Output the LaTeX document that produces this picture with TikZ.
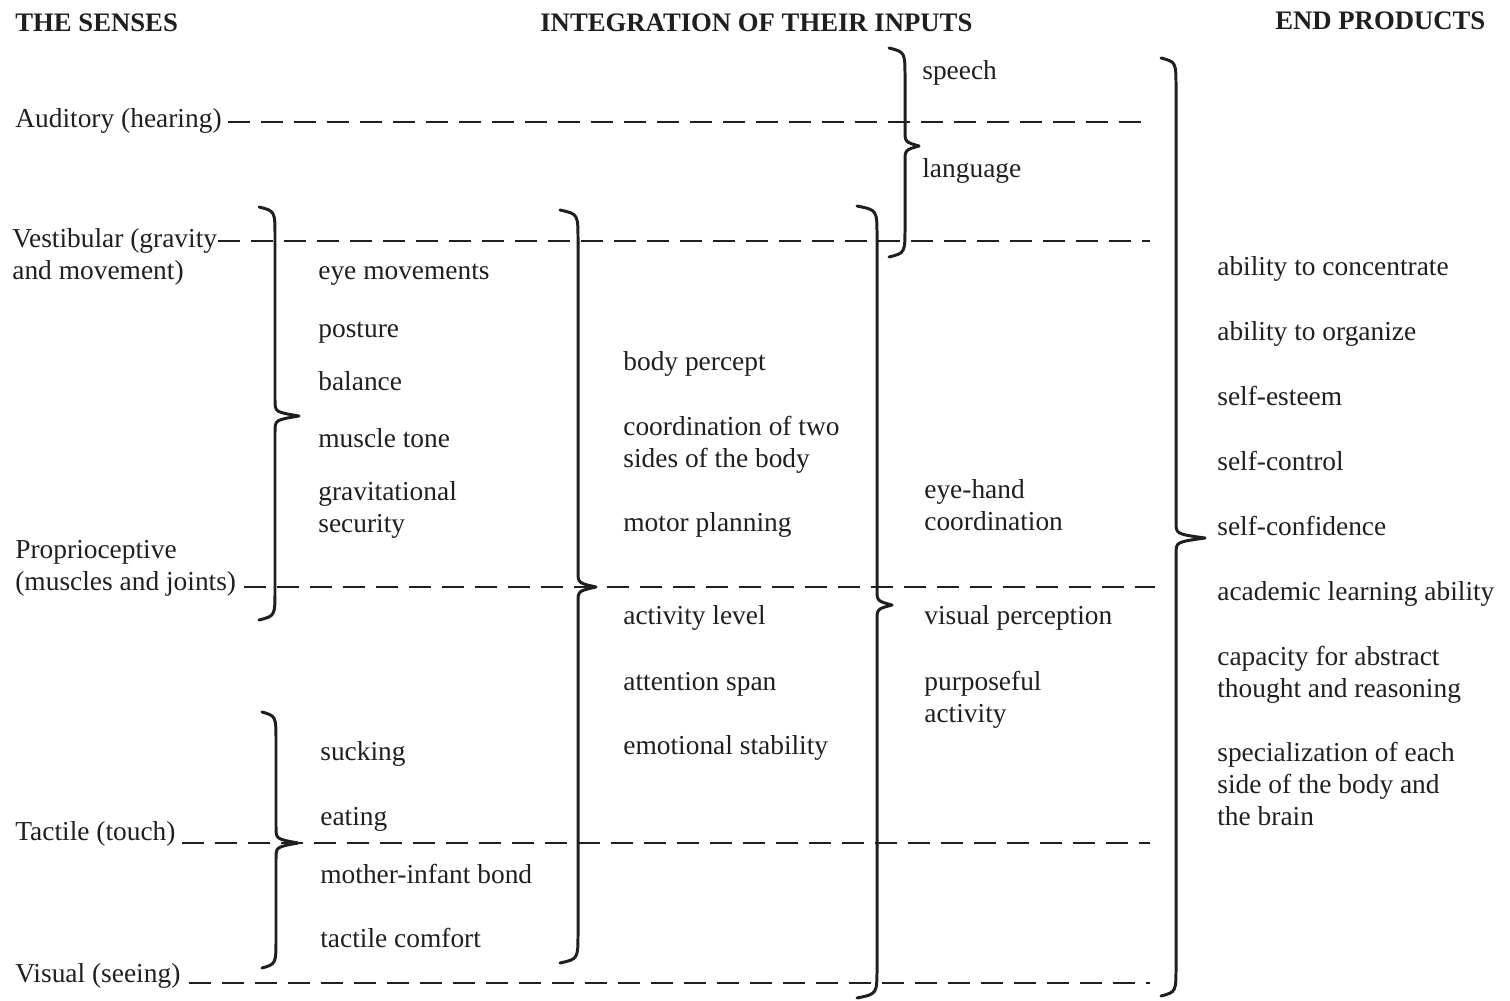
\documentclass[tikz,border=0pt]{standalone}
\usepackage{fontspec}
\setmainfont{Liberation Serif}
\newcommand\sbrace[6]{%
  \draw[bracestyle] (#1,#4) .. controls (#2,#4+4) .. (#2,#4+30) -- (#2,#5-16)
    .. controls (#2,#5-4) .. (#3,#5) .. controls (#2,#5+4) .. (#2,#5+16)
    -- (#2,#6-30) .. controls (#2,#6-4) .. (#1,#6);}
\begin{document}
\begin{tikzpicture}[x=0.02cm,y=-0.02cm,
  lbl/.style={anchor=base west, inner sep=0pt, font=\fontsize{15.6}{18.2}\selectfont, align=left, text=black!88},
  hdr/.style={anchor=base west, inner sep=0pt, font=\bfseries\fontsize{15.2}{18}\selectfont, text=black!88},
  dashline/.style={line width=1.4pt, dash pattern=on 0.44cm off 0.22cm, black!88},
  bracestyle/.style={line width=1.7pt, line cap=round, line join=round, black!88}]
\useasboundingbox (0,0) rectangle (1510,1000);
% headers
\node[hdr] (h1) at (15,32) {THE SENSES};
\node[hdr] (h2) at (540,32) {INTEGRATION OF THEIR INPUTS};
\node[hdr] (h3) at (1275,30) {END PRODUCTS};
% senses
\node[lbl] (aud) at (15,128) {Auditory (hearing)};
\node[lbl] (ves) at (12,279) {Vestibular (gravity\\and movement)};
\node[lbl] (pro) at (15,590) {Proprioceptive\\(muscles and joints)};
\node[lbl] (tac) at (15,840) {Tactile (touch)};
\node[lbl] (vis) at (15,982) {Visual (seeing)};
% line ends
\coordinate (audE) at (1150,122);
\coordinate (vesE) at (1150,241);
\coordinate (proE) at (1155,587);
\coordinate (tacE) at (1150,843);
\coordinate (visE) at (1150,983);
\draw[dashline] ([xshift=0.12cm]aud.east |- audE) -- (audE);
\draw[dashline] (218,241) -- (vesE);
\draw[dashline] ([xshift=0.16cm]pro.east |- proE) -- (proE);
\draw[dashline] ([xshift=0.12cm]tac.east |- tacE) -- (tacE);
\draw[dashline] ([xshift=0.16cm]vis.east |- visE) -- (visE);
% column 1
\node[lbl] (c1a) at (318,279) {eye movements};
\node[lbl] (c1b) at (318,337) {posture};
\node[lbl] (c1c) at (318,390) {balance};
\node[lbl] (c1d) at (318,447) {muscle tone};
\node[lbl] (c1e) at (318,532) {gravitational\\security};
\node[lbl] (c1f) at (320,760) {sucking};
\node[lbl] (c1g) at (320,825) {eating};
\node[lbl] (c1h) at (320,883) {mother-infant bond};
\node[lbl] (c1i) at (320,947) {tactile comfort};
% column 2
\node[lbl] (c2a) at (623,370) {body percept};
\node[lbl] (c2b) at (623,467) {coordination of two\\sides of the body};
\node[lbl] (c2c) at (623,531) {motor planning};
\node[lbl] (c2d) at (623,624) {activity level};
\node[lbl] (c2e) at (623,690) {attention span};
\node[lbl] (c2f) at (623,754) {emotional stability};
% column 3
\node[lbl] (c3a) at (922,80) {speech};
\node[lbl] (c3b) at (922,178) {language};
\node[lbl] (c3c) at (924,530) {eye-hand\\coordination};
\node[lbl] (c3d) at (924,624) {visual perception};
\node[lbl] (c3e) at (924,722) {purposeful\\activity};
% column 4
\node[lbl] (c4a) at (1217,275) {ability to concentrate};
\node[lbl] (c4b) at (1217,340) {ability to organize};
\node[lbl] (c4c) at (1217,405) {self-esteem};
\node[lbl] (c4d) at (1217,470) {self-control};
\node[lbl] (c4e) at (1217,535) {self-confidence};
\node[lbl] (c4f) at (1217,600) {academic learning ability};
\node[lbl] (c4g) at (1217,697) {capacity for abstract\\thought and reasoning};
\node[lbl] (c4h) at (1217,825) {specialization of each\\side of the body and\\the brain};
% braces
\sbrace{259}{275}{299}{207}{416}{620}
\sbrace{262}{276}{298}{712}{843}{968}
\sbrace{560}{578}{596}{210}{587}{963}
\sbrace{857}{877}{892}{206}{605}{998}
\sbrace{889}{905}{919}{48}{146}{257}
\sbrace{1161}{1176}{1205}{58}{538}{996}
\end{tikzpicture}
\end{document}
